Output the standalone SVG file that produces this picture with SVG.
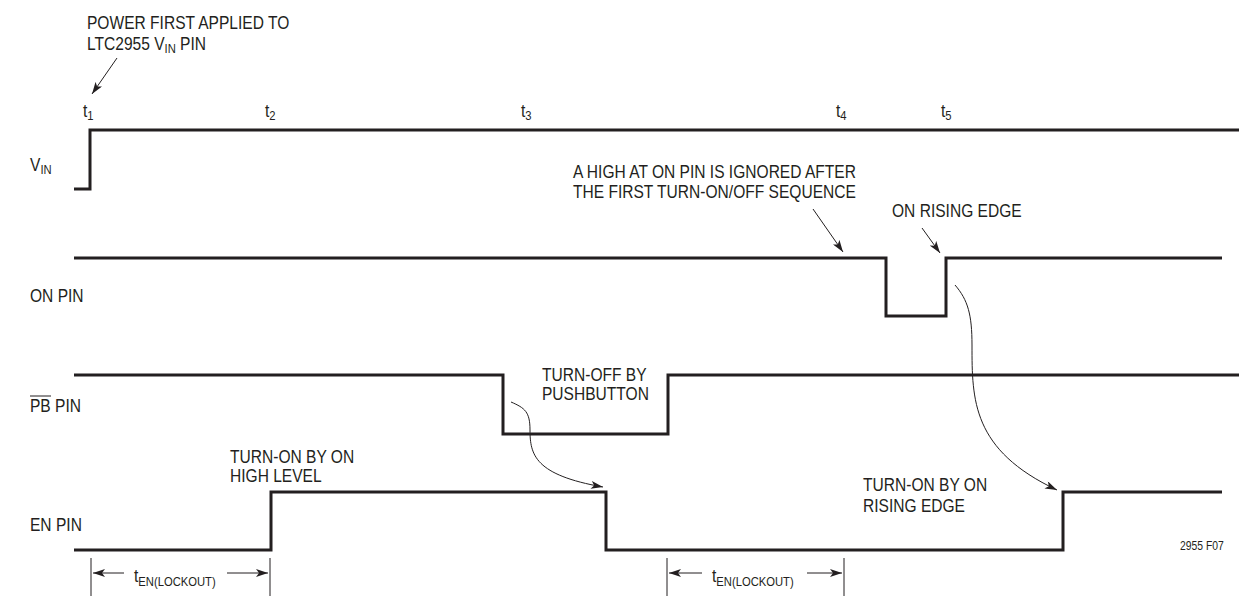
<svg xmlns="http://www.w3.org/2000/svg" width="1239" height="596" viewBox="0 0 1239 596">
<style>
  text { font-family: "Liberation Sans", Arial, sans-serif; font-size: 18px; fill: #231f20; }
  .sig { fill: none; stroke: #231f20; stroke-width: 3; stroke-linejoin: miter; }
  .ann { fill: none; stroke: #231f20; stroke-width: 1; }
  .small { font-size: 12px; }
  .sub { font-size: 13px; }
</style>
<defs>
  <marker id="ah" viewBox="0 0 12 8" refX="12" refY="4" markerWidth="13" markerHeight="8" markerUnits="userSpaceOnUse" orient="auto">
    <path d="M0,0 L12,4 L0,8 L3,4 Z" fill="#231f20"/>
  </marker>
</defs>
<rect width="1239" height="596" fill="#ffffff"/>

<g id="signals">
  <g id="vin"><polyline class="sig" points="74,189 90,189 90,130 1239,130"/></g>
  <g id="on-pin"><polyline class="sig" points="74,258 886,258 886,316 946,316 946,258 1222,258"/></g>
  <g id="pb-pin"><polyline class="sig" points="74,375 503,375 503,434 668,434 668,375 1239,375"/></g>
  <g id="en-pin"><polyline class="sig" points="74,550 271,550 271,492 606,492 606,550 1063,550 1063,492 1222,492"/></g>
</g>

<g id="labels">
  <text transform="translate(30,171) scale(0.865 1)">V<tspan class="sub" dy="3">IN</tspan></text>
  <text transform="translate(30,302) scale(0.865 1)">ON PIN</text>
  <text transform="translate(30,412) scale(0.865 1)">PB PIN</text>
  <line x1="30" y1="396" x2="51" y2="396" stroke="#231f20" stroke-width="1"/>
  <text transform="translate(30,531) scale(0.865 1)">EN PIN</text>
</g>

<g id="time-marks">
  <text transform="translate(83,117) scale(0.865 1)">t<tspan class="sub" dy="3">1</tspan></text>
  <text transform="translate(265,117) scale(0.865 1)">t<tspan class="sub" dy="3">2</tspan></text>
  <text transform="translate(521,117) scale(0.865 1)">t<tspan class="sub" dy="3">3</tspan></text>
  <text transform="translate(836,117) scale(0.865 1)">t<tspan class="sub" dy="3">4</tspan></text>
  <text transform="translate(941,117) scale(0.865 1)">t<tspan class="sub" dy="3">5</tspan></text>
</g>

<g id="annotations">
  <text transform="translate(87,29) scale(0.865 1)">POWER FIRST APPLIED TO</text>
  <text transform="translate(87,50) scale(0.865 1)">LTC2955 V<tspan class="sub" dy="3">IN</tspan><tspan dy="-3"> PIN</tspan></text>
  <text transform="translate(573,178) scale(0.865 1)">A HIGH AT ON PIN IS IGNORED AFTER</text>
  <text transform="translate(573,198) scale(0.865 1)">THE FIRST TURN-ON/OFF SEQUENCE</text>
  <text transform="translate(892,217) scale(0.865 1)">ON RISING EDGE</text>
  <text transform="translate(542,381) scale(0.865 1)">TURN-OFF BY</text>
  <text transform="translate(542,400) scale(0.865 1)">PUSHBUTTON</text>
  <text transform="translate(230,463) scale(0.865 1)">TURN-ON BY ON</text>
  <text transform="translate(230,482) scale(0.865 1)">HIGH LEVEL</text>
  <text transform="translate(863,491) scale(0.865 1)">TURN-ON BY ON</text>
  <text transform="translate(863,512) scale(0.865 1)">RISING EDGE</text>
  <text class="small" transform="translate(1180,550) scale(0.865 1)">2955 F07</text>
  <text transform="translate(134,582) scale(0.865 1)">t<tspan class="sub" dy="4">EN(LOCKOUT)</tspan></text>
  <text transform="translate(712,582) scale(0.865 1)">t<tspan class="sub" dy="4">EN(LOCKOUT)</tspan></text>
</g>

<g id="connectors">
  <line class="ann" x1="117" y1="58" x2="92" y2="94" marker-end="url(#ah)"/>
  <line class="ann" x1="813" y1="209" x2="843" y2="252" marker-end="url(#ah)"/>
  <line class="ann" x1="922" y1="228" x2="940" y2="253" marker-end="url(#ah)"/>
  <path class="ann" d="M511,402 C525,408 530,412 530,430 C530,455 535,475 603,487" marker-end="url(#ah)"/>
  <path class="ann" d="M955,285 C968,300 972,315 972,345 C972,400 972,450 1057,490" marker-end="url(#ah)"/>
  <line class="ann" x1="91" y1="558" x2="91" y2="596"/>
  <line class="ann" x1="270" y1="558" x2="270" y2="596"/>
  <line class="ann" x1="667" y1="558" x2="667" y2="596"/>
  <line class="ann" x1="844" y1="558" x2="844" y2="596"/>
  <line class="ann" x1="124" y1="573" x2="93" y2="573" marker-end="url(#ah)"/>
  <line class="ann" x1="227" y1="573" x2="268" y2="573" marker-end="url(#ah)"/>
  <line class="ann" x1="702" y1="573" x2="669" y2="573" marker-end="url(#ah)"/>
  <line class="ann" x1="807" y1="573" x2="842" y2="573" marker-end="url(#ah)"/>
</g>
</svg>
